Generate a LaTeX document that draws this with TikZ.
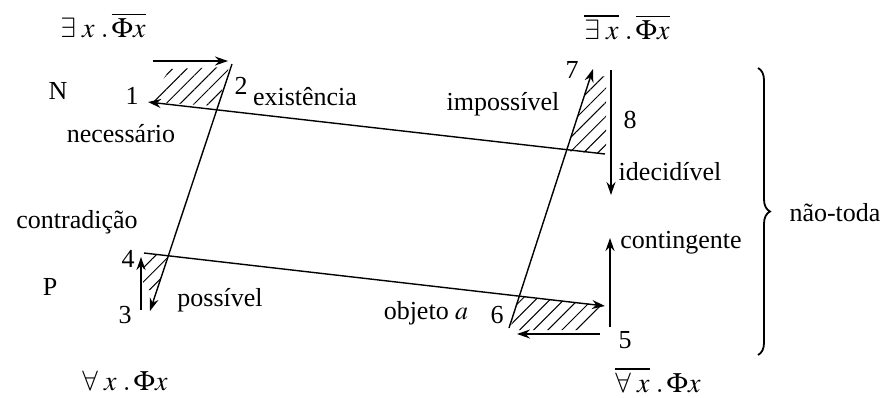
\documentclass[tikz,border=0pt]{standalone}
\usepackage{mathptmx}
\usepackage{fontspec}
\setmainfont{Liberation Serif}
\usetikzlibrary{arrows.meta, patterns.meta, decorations.pathreplacing}

\begin{document}
\begin{tikzpicture}[x=0.5pt, y=-0.5pt, font=\fontsize{13}{15}\selectfont,
	seta/.style={-{Stealth[length=6.5pt, width=4.5pt]}, line width=0.7pt},
	hatch/.style={pattern={Lines[angle=45, distance=5pt, line width=0.5pt]}},
	rotulo/.style={inner sep=0pt},
	formula/.style={inner sep=0pt, font=\fontsize{14}{16}\selectfont}]
	\useasboundingbox (0, 0) rectangle (884, 397);
	% hatched corners
	\fill [hatch] (148, 102) -- (170, 69) -- (229, 67) -- (217, 106) -- cycle;
	\fill [hatch] (143, 255) -- (168, 255) -- (157, 290) -- (143, 290) -- cycle;
	\fill [hatch] (567, 151) -- (590, 78) -- (606, 76) -- (606, 154) -- cycle;
	\fill [hatch] (519, 296) -- (602, 305) -- (588, 330) -- (510, 330) -- cycle;
	% corner points
	\coordinate (p1) at (148, 102);
	\coordinate (p2) at (232, 64);
	\coordinate (p3) at (150, 311);
	\coordinate (p4) at (144, 253);
	\coordinate (p5) at (610, 327);
	\coordinate (p6) at (509, 328);
	\coordinate (p7) at (593, 69);
	\coordinate (p8) at (611, 70);
	\coordinate (topo) at (153, 61);
	\coordinate (topofim) at (228, 61);
	\coordinate (base3) at (141, 310);
	\coordinate (base4) at (141, 257);
	\coordinate (meio8) at (605, 154);
	\coordinate (meio6) at (605, 306);
	\coordinate (base5) at (600, 334);
	\coordinate (base6) at (517, 334);
	\coordinate (sobe5) at (610, 238);
	\coordinate (desce8) at (611, 195);
	% arrows
	\draw [seta] (topo) -- (topofim);
	\draw [seta] (meio8) -- (p1);
	\draw [seta] (p2) -- (p3);
	\draw [seta] (base3) -- (base4);
	\draw [seta] (p4) -- (meio6);
	\draw [seta] (base5) -- (base6);
	\draw [seta] (p5) -- (sobe5);
	\draw [seta] (p6) -- (p7);
	\draw [seta] (p8) -- (desce8);
	\draw [decorate, decoration={brace, amplitude=6pt}, line width=0.9pt] (758, 68) -- (758, 355);
	% labels
	\node [formula] (fex) at (103, 25) {$\exists\;x\;.\,\overline{\Phi x}$};
	\node [formula] (fnex) at (627, 27) {$\overline{\exists\;x}\;.\,\overline{\Phi x}$};
	\node [formula] (fall) at (125, 381) {$\forall\;x\;.\,\Phi x$};
	\node [formula] (fnall) at (658, 380) {$\overline{\forall\;x}\;.\,\Phi x$};
	\node [rotulo] (lN) at (58, 91) {N};
	\node [rotulo] (lP) at (50, 287) {P};
	\node [rotulo] (l1) at (132, 96) {1};
	\node [rotulo] (l2) at (241, 86) {2};
	\node [rotulo] (l3) at (125, 315) {3};
	\node [rotulo] (l4) at (128, 259) {4};
	\node [rotulo] (l5) at (625, 340) {5};
	\node [rotulo] (l6) at (497, 315) {6};
	\node [rotulo] (l7) at (572, 70) {7};
	\node [rotulo] (l8) at (630, 120) {8};
	\node [rotulo] (exist) at (305, 97) {existência};
	\node [rotulo] (nec) at (121, 134) {necessário};
	\node [rotulo] (contra) at (77, 222) {contradição};
	\node [rotulo] (poss) at (220, 300) {possível};
	\node [rotulo] (imposs) at (503, 104) {impossível};
	\node [rotulo] (idec) at (670, 172) {idecidível};
	\node [rotulo] (conting) at (681, 243) {contingente};
	\node [rotulo] (naotoda) at (835, 213) {não-toda};
	\node [rotulo] (objeto) at (426, 313) {objeto $a$};
\end{tikzpicture}
\end{document}
